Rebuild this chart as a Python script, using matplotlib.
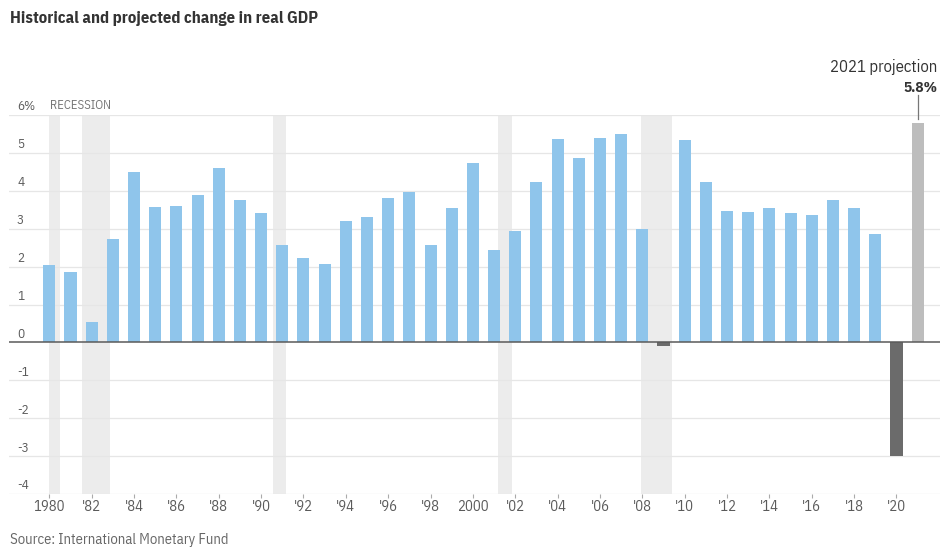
import matplotlib
matplotlib.use("Agg")
import matplotlib.pyplot as plt
import matplotlib.transforms as mtransforms

# ── Data ──────────────────────────────────────────────────────────────────────
years = list(range(1980, 2022))
gdp_change = [
    2.04, 1.85, 0.53, 2.72, 4.49, 3.58, 3.60, 3.89, 4.60, 3.75,   # 1980-89
    3.42, 2.58, 2.24, 2.06, 3.20, 3.30, 3.81, 3.96, 2.56, 3.55,   # 1990-99
    4.74, 2.44, 2.95, 4.24, 5.37, 4.86, 5.40, 5.51, 2.98, -0.09,  # 2000-09
    5.35, 4.23, 3.46, 3.43, 3.54, 3.41, 3.35, 3.77, 3.54, 2.86,   # 2010-19
    -3.0, 5.8,                                                    # 2020, 2021 proj.
]
recession_start = [1980.0, 1981.53, 1990.54, 2001.17, 2007.92]
recession_end   = [1980.5, 1982.87, 1991.17, 2001.83, 2009.42]

tick_years  = list(range(1980, 2021, 2))
tick_labels = ["1980", "'82", "'84", "'86", "'88", "'90", "'92", "'94", "'96", "'98",
               "2000", "'02", "'04", "'06", "'08", "'10", "'12", "'14", "'16", "'18", "'20"]
y_ticks  = [6, 5, 4, 3, 2, 1, 0, -1, -2, -3, -4]
y_labels = ["6%", "5", "4", "3", "2", "1", "0", "-1", "-2", "-3", "-4"]

# ── Style ─────────────────────────────────────────────────────────────────────
FONT = ["IBM Plex Sans Condensed", "DejaVu Sans"]
plt.rcParams["font.family"] = FONT

BLUE     = "#8fc5eb"
NEG_GREY = "#6b6b6b"
PROJ     = "#bdbdbd"
SHADE    = "#ececec"
GRID     = "#e6e6e6"
TEXT     = "#5a5a5a"

W, H = 940, 548
fig = plt.figure(figsize=(W / 100, H / 100), dpi=100)

# axes in pixel terms: left 9, right 940, top 115 (y=6), bottom 494 (y=-4)
ax = fig.add_axes([9 / W, (H - 494) / H, (940 - 9) / W, (494 - 115) / H])
px_per_year = 21.18
x_left  = 1980 - (49.3 - 9) / px_per_year
x_right = 1980 + (940 - 49.3) / px_per_year
ax.set_xlim(x_left, x_right)
ax.set_ylim(-4, 6)

for s in ax.spines.values():
    s.set_visible(False)

# recession shading
for a, b in zip(recession_start, recession_end):
    ax.axvspan(a, b, ymin=0, ymax=1, color=SHADE, lw=0, zorder=0)

# gridlines
for yv in y_ticks:
    if yv != 0:
        ax.axhline(yv, color=GRID, lw=0.9, zorder=1)

# bars
colors = []
for yr, v in zip(years, gdp_change):
    if yr == 2021:
        colors.append(PROJ)
    elif v < 0:
        colors.append(NEG_GREY)
    else:
        colors.append(BLUE)
ax.bar(years, gdp_change, width=0.57, color=colors, lw=0, zorder=2)

# zero line
ax.axhline(0, color="#5a5a5a", lw=1.1, zorder=3)

# y labels sitting above their gridlines
trans_y = mtransforms.blended_transform_factory(fig.transFigure, ax.transData)
for yv, lab in zip(y_ticks, y_labels):
    ax.text(17 / W, yv + 0.04, lab, transform=trans_y, ha="left", va="bottom",
            fontsize=9.5, color=TEXT)
ax.set_yticks([])

# x ticks
ax.set_xticks(tick_years)
ax.set_xticklabels(tick_labels)
ax.tick_params(axis="x", length=3, width=0.8, color="#aaaaaa", pad=1,
               labelsize=10.5, labelcolor=TEXT)

# recession label
ax.text(1980.05, 6.08, "RECESSION", ha="left", va="bottom", fontsize=9,
        color="#777777")

# projection annotation
proj_val = gdp_change[years.index(2021)]
ax.plot([2021, 2021], [proj_val + 0.1, proj_val + 0.72], color="#777777", lw=0.9,
        clip_on=False, zorder=4)
fig.text(937 / W, (H - 88) / H, f"{proj_val:.1f}%", ha="right", va="center",
         fontsize=11, fontweight="bold", color="#333333")
fig.text(937 / W, (H - 67) / H, "2021 projection", ha="right", va="center",
         fontsize=12, color="#333333")

# title and source
fig.text(10 / W, (H - 18) / H, "Historical and projected change in real GDP",
         ha="left", va="center", fontsize=12, fontweight="bold", color="#333333")
fig.text(10 / W, (H - 540) / H, "Source: International Monetary Fund",
         ha="left", va="center", fontsize=10.5, color="#666666")

fig.savefig("out.png", dpi=100)
